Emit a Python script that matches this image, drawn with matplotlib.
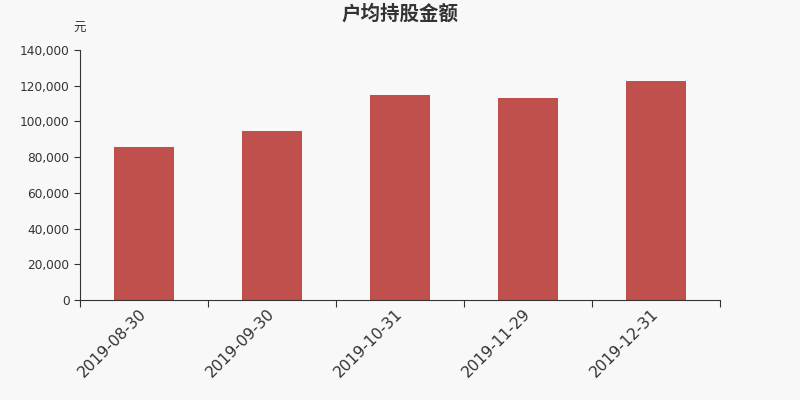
import matplotlib
matplotlib.use("Agg")
import matplotlib.pyplot as plt
import matplotlib.transforms as mtransforms
from matplotlib.ticker import FuncFormatter

plt.rcParams['font.family'] = ['Noto Sans CJK SC', 'DejaVu Sans']

dates = ["2019-08-30", "2019-09-30", "2019-10-31", "2019-11-29", "2019-12-31"]
values = [85800, 94600, 114600, 113000, 122600]

bg = "#f8f8f8"
fig = plt.figure(figsize=(8, 4), dpi=100, facecolor=bg)
ax = fig.add_axes([0.1, 0.25, 0.8, 0.625], facecolor=bg)

x = list(range(len(dates)))
ax.bar(x, values, width=0.47, color="#c0504d", zorder=2)

ax.set_xlim(-0.5, len(dates) - 0.5)
ax.set_ylim(0, 140000)
ax.set_yticks(range(0, 140001, 20000))
ax.yaxis.set_major_formatter(FuncFormatter(lambda v, p: f"{int(v):,}"))
for lab in ax.get_yticklabels():
    lab.set_family("DejaVu Sans")

ax.set_xticks([i - 0.5 for i in range(len(dates) + 1)], minor=False)
ax.set_xticklabels([])
ax.set_xticks(x, minor=True)
ax.set_xticklabels(dates, minor=True, rotation=45, ha="right", va="center",
                   rotation_mode="anchor", fontsize=11.2, color="#333333",
                   family="DejaVu Sans")
shift = mtransforms.ScaledTranslation(1 / 100, 0, fig.dpi_scale_trans)
for lab in ax.get_xticklabels(minor=True):
    lab.set_transform(lab.get_transform() + shift)
ax.tick_params(axis="x", which="minor", length=0, pad=8)
ax.tick_params(axis="x", which="major", length=5, color="#333333")
ax.tick_params(axis="y", length=4, color="#333333", labelsize=8.7, labelcolor="#333333")

for s in ["top", "right"]:
    ax.spines[s].set_visible(False)
for s in ["left", "bottom"]:
    ax.spines[s].set_color("#333333")

fig.text(0.5, 0.965, "户均持股金额", ha="center", va="center", fontsize=14,
         fontweight="bold", color="#333333")
fig.text(0.099, 0.93, "元", ha="center", va="center", fontsize=9, color="#333333")

fig.savefig("out.png", dpi=100, facecolor=bg)
